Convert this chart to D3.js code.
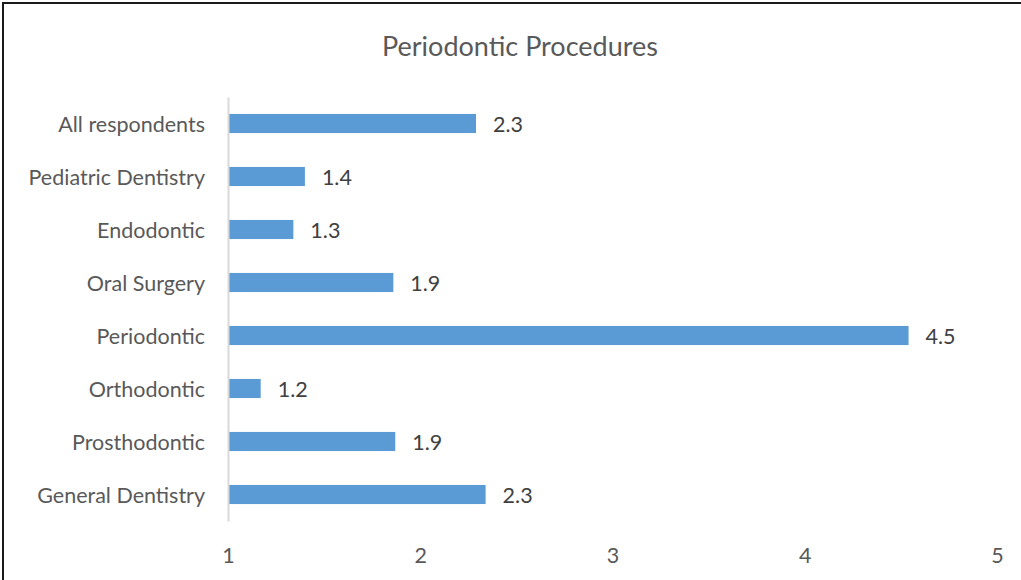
<!DOCTYPE html>
<html><head><meta charset="utf-8">
<script src="https://cdn.jsdelivr.net/npm/d3@7"></script>
<style>body{margin:0;background:#fff;}svg{display:block;font-family:Lato, "Open Sans", sans-serif;}</style>
</head><body>
<svg id="chart" width="1021" height="580"></svg>
<script>
const categories = ["All respondents","Pediatric Dentistry","Endodontic","Oral Surgery","Periodontic","Orthodontic","Prosthodontic","General Dentistry"];
const values = [2.29, 1.40, 1.34, 1.86, 4.54, 1.17, 1.87, 2.34];
const xTicks = [1,2,3,4,5];
const title = "Periodontic Procedures";

const svg = d3.select("#chart");
svg.append("rect").attr("x",3).attr("y",3).attr("width",1030).attr("height",600)
  .attr("fill","none").attr("stroke","#1a1a1a").attr("stroke-width",2);

const x = d3.scaleLinear().domain([1,5]).range([228,997]);
const y = d3.scaleBand().domain(categories).range([97,521]).paddingInner(0.64).paddingOuter(0.32);

svg.append("text").attr("x",520).attr("y",56).attr("text-anchor","middle")
  .attr("font-size",27).attr("fill","#595959").text(title);

svg.selectAll("rect.bar").data(categories).join("rect").attr("class","bar")
  .attr("x",x(1)).attr("y",d=>y(d)).attr("height",y.bandwidth())
  .attr("width",(d,i)=>x(values[i])-x(1)).attr("fill","#5b9bd5");

svg.selectAll("text.val").data(categories).join("text").attr("class","val")
  .attr("x",(d,i)=>x(values[i])+17).attr("y",d=>y(d)+y.bandwidth()/2+1).attr("dy","0.35em")
  .attr("font-size",21.5).attr("fill","#404040").text((d,i)=>d3.format(".1f")(values[i]));

// y axis
const ya = svg.append("g").attr("transform",`translate(${x(1)},0)`)
  .call(d3.axisLeft(y).tickSize(0).tickPadding(23));
ya.select(".domain").attr("stroke","#d9d9d9").attr("stroke-width",2);
ya.selectAll("text").attr("font-size",21.5).attr("fill","#595959").attr("font-family","Lato, sans-serif").attr("dy","0.4em");

// x axis labels (no line)
const xa = svg.append("g").attr("transform","translate(0,538)")
  .call(d3.axisBottom(x).tickValues(xTicks).tickSize(0).tickPadding(10).tickFormat(d3.format("d")));
xa.select(".domain").remove();
xa.selectAll("text").attr("font-size",21.5).attr("fill","#595959").attr("font-family","Lato, sans-serif");
</script>
</body></html>
